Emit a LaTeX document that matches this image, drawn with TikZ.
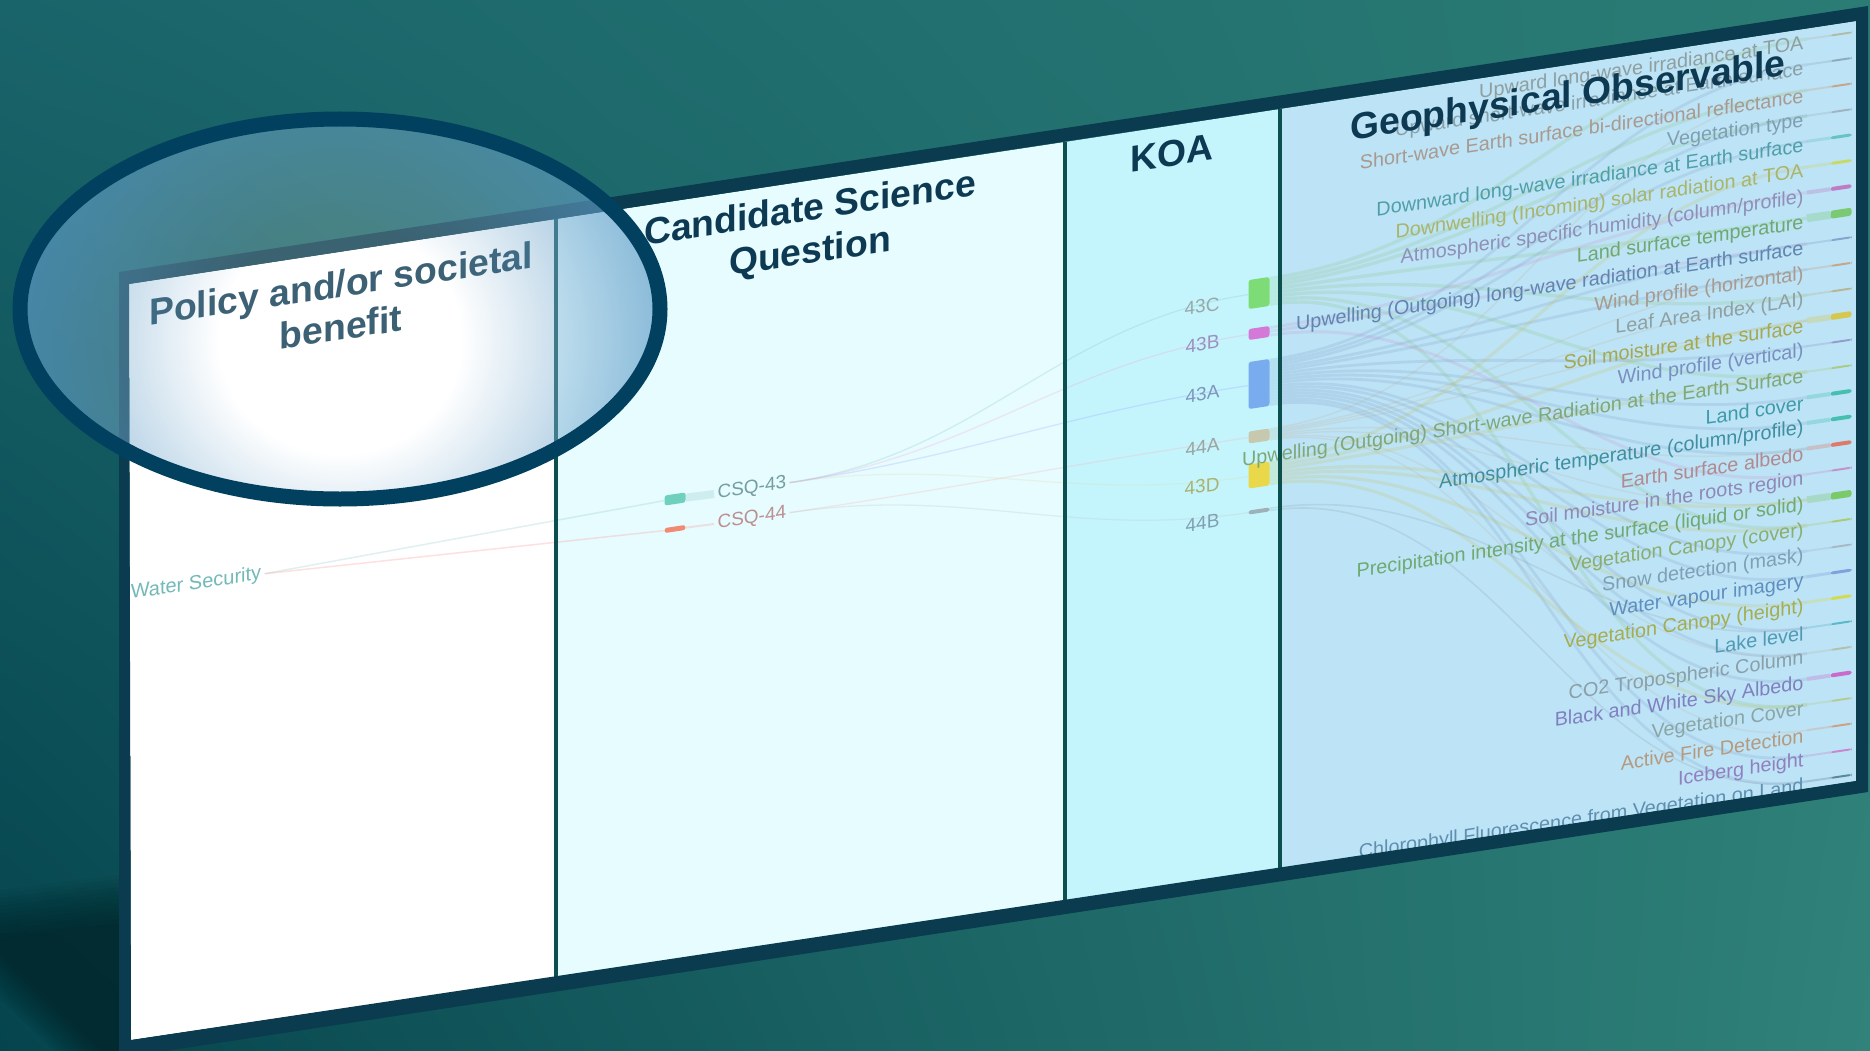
\documentclass[tikz,border=0pt]{standalone}
\usepackage{fontspec}
\setmainfont{Liberation Sans}
\usetikzlibrary{shadings,fadings,calc}
\definecolor{bgLL}{HTML}{05444D}
\definecolor{bgUL}{HTML}{19646A}
\definecolor{bgUR}{HTML}{2B7C75}
\definecolor{bgLR}{HTML}{30827A}
\definecolor{framecol}{HTML}{0A3B4E}
\definecolor{sepcol}{HTML}{0B4F4F}
\definecolor{lenscol}{HTML}{4A8FC0}
\definecolor{lensring}{HTML}{02405F}
\definecolor{titlecol}{HTML}{0D3A52}
\definecolor{colB}{HTML}{E6FCFF}
\definecolor{colC}{HTML}{C4F5FD}
\definecolor{colD}{HTML}{BDE3F6}
\definecolor{lgreen}{HTML}{8FC98A}
\definecolor{lpink}{HTML}{C79AD0}
\definecolor{lblue}{HTML}{7FA3CC}
\definecolor{ltan}{HTML}{BDB9A0}
\definecolor{lyellow}{HTML}{C2C46A}
\definecolor{lgrey}{HTML}{8FA5B0}
\definecolor{csqteal}{HTML}{6FD0BD}
\definecolor{csqred}{HTML}{F08A70}
\pgfdeclareradialshading{lensshade}{\pgfpointorigin}{%
  color(0bp)=(transparent!100); color(9.5bp)=(transparent!100);
  color(25bp)=(transparent!40); color(50bp)=(transparent!40)}
\pgfdeclarefading{lensfade}{\pgfuseshading{lensshade}}
\tikzset{
  tilted/.style={yslant=0.15},
  title/.style={tilted,font=\bfseries\fontsize{37.3}{43}\selectfont,text=titlecol,align=center},
  koatext/.style={tilted,font=\fontsize{19}{19}\selectfont,anchor=east,text=#1},
  obstext/.style={tilted,font=\fontsize{19.8}{20}\selectfont,anchor=east,text=#1},
  chip/.style={tilted,fill=#1,rounded corners=2.5pt,inner sep=0pt,minimum width=21pt},
  link/.style={draw=#1,line width=1.3pt,opacity=.24,out=8.5,in=188.5,looseness=1},
  stub/.style={draw=#1,opacity=.3},
}
\def\obslist{
    1/Upward long-wave irradiance at TOA/8F9F9F/B0B8A0/2,
    2/Upward short-wave irradiance at Earth surface/8AA0A8/8AA5B5/2,
    3/Short-wave Earth surface bi-directional reflectance/A89A90/C89F80/2,
    4/Vegetation type/7F9FB0/9AB0BD/2,
    5/Downward long-wave irradiance at Earth surface/4F9FA8/5CC0BC/3,
    6/Downwelling (Incoming) solar radiation at TOA/A9B56A/C9D95A/3,
    7/{Atmospheric specific humidity (column/profile)}/8F8FB8/C070C0/4,
    8/Land surface temperature/6FA870/74C865/8,
    9/Upwelling (Outgoing) long-wave radiation at Earth surface/5F86B0/7F9FC8/2,
    10/Wind profile (horizontal)/A89A90/C8A080/2,
    11/Leaf Area Index (LAI)/8FA0A0/B8B08A/2,
    12/Soil moisture at the surface/A5A850/D9C63C/6,
    13/Wind profile (vertical)/7A8FC0/8F96C8/2,
    14/Upwelling (Outgoing) Short-wave Radiation at the Earth Surface/7FA878/A6C97A/2,
    15/Land cover/3F9AA8/38BCA8/4,
    16/{Atmospheric temperature (column/profile)}/3F8FA0/38BCA8/4,
    17/Earth surface albedo/B08A90/E0705A/4,
    18/Soil moisture in the roots region/8F88B8/C48AC8/2,
    19/Precipitation intensity at the surface (liquid or solid)/6FAA70/74C85A/7,
    20/Vegetation Canopy (cover)/8AAE70/A6C965/2,
    21/Snow detection (mask)/7F9FB5/A5B5C0/2,
    22/Water vapour imagery/5F8FC0/7A9AD8/3,
    23/Vegetation Canopy (height)/A5AD50/D6DA3C/3,
    24/Lake level/4F9AB5/4FB5C0/2,
    25/CO2 Tropospheric Column/8A9FA8/B5BDA5/2,
    26/Black and White Sky Albedo/8080C0/CC5FC8/4,
    27/Vegetation Cover/8AA5A5/B5C88A/2,
    28/Active Fire Detection/B59A80/D09A7A/2,
    29/Iceberg height/9080C0/C880C8/2,
    30/Chlorophyll Fluorescence from Vegetation on Land/5F8FB0/50808F/2}
\begin{document}
\begin{tikzpicture}[x=1pt,y=-1pt]
  \useasboundingbox (0,0) rectangle (1870,1051);
  % background
  \shade[lower left=bgLL,lower right=bgLR,upper left=bgUL,upper right=bgUR]
    (0,0) rectangle (1870,1051);
  \foreach \d in {0,4,...,48}
    \fill[black!60!bgLL,opacity=.06]
      (119,875+\d) -- (0,890+\d) -- (0,1000-\d) -- (55+\d,1051) -- (119,1051) -- cycle;
  % columns
  \fill[white] (129,284) -- (556,219) -- (556,977) -- (131,1040) -- cycle;
  \fill[colB] (556,219) -- (1065,142) -- (1065,901) -- (556,977) -- cycle;
  \fill[colC] (1065,142) -- (1280,109) -- (1280,869) -- (1065,901) -- cycle;
  \fill[colD] (1280,109) -- (1856,21) -- (1856,781) -- (1280,869) -- cycle;

  % left column and candidate questions
  \node[tilted,font=\fontsize{20}{20}\selectfont,text=teal!55!white] (water) at (196,584) {Water Security};
  \node[chip=csqteal,minimum height=10pt] (csq43) at (675,499) {};
  \node[chip=csqred,minimum height=5pt] (csq44) at (675,529) {};
  \node[koatext=teal!45!gray!75!white,anchor=west] (csq43t) at (714,494) {CSQ-43};
  \node[koatext=red!25!gray!70!white,anchor=west] (csq44t) at (714,524) {CSQ-44};

  % KOA
  \definecolor{t1}{HTML}{9BA8A8}\definecolor{t2}{HTML}{9A90C0}\definecolor{t3}{HTML}{7F97B8}
  \definecolor{t4}{HTML}{98A5A0}\definecolor{t5}{HTML}{A9B070}\definecolor{t6}{HTML}{7F9FB0}
  \node[koatext=t1] (t43C) at (1223,303) {43C};
  \node[koatext=t2] (t43B) at (1223,341) {43B};
  \node[koatext=t3] (t43A) at (1223,391) {43A};
  \node[koatext=t4] (t44A) at (1223,444) {44A};
  \node[koatext=t5] (t43D) at (1223,483) {43D};
  \node[koatext=t6] (t44B) at (1223,520) {44B};
  \definecolor{k1}{HTML}{7EDC76}\definecolor{k2}{HTML}{D479D8}\definecolor{k3}{HTML}{78ACEF}
  \definecolor{k4}{HTML}{C8C8AE}\definecolor{k5}{HTML}{E8D84A}\definecolor{k6}{HTML}{9EB0B8}
  \node[chip=k1,minimum height=29pt] (k43C) at (1259,293) {};
  \node[chip=k2,minimum height=11pt] (k43B) at (1259,333) {};
  \node[chip=k3,minimum height=47pt] (k43A) at (1259,384) {};
  \node[chip=k4,minimum height=12pt] (k44A) at (1259,436) {};
  \node[chip=k5,minimum height=24pt] (k43D) at (1259,475) {};
  \node[chip=k6,minimum height=4pt] (k44B) at (1259,511) {};

  % observable ticks
  \foreach \idx/\txt/\tcol/\mcol/\hgt in \obslist {
    \definecolor{mc}{HTML}{\mcol}
    \pgfmathsetmacro{\rowy}{44+25.6*(\idx-1)}
    \node[chip=mc,minimum height=\hgt pt,opacity=.9] (o\idx) at (1841,\rowy-10) {};
    \coordinate (e\idx) at (1807,\rowy-5);
    \draw[stub=mc,line width=\hgt pt] (e\idx) -- (o\idx.west);
  }

  % links
  \draw[stub=teal!40!white,line width=8pt] (csq43) -- (csq43t.west);
  \draw[stub=teal!40!white,line width=1.5pt] (water.east) -- (csq43.west);
  \draw[stub=red!40!white,line width=1.5pt] (water.east) -- (csq44.west);
  \draw[stub=red!40!white,line width=2pt] (csq44) -- (csq44t.west);
  \path (csq43t.east) edge[link=teal!50!white] (k43C.west)
        (csq43t.east) edge[link=magenta!40!white] (k43B.west)
        (csq43t.east) edge[link=blue!40!white] (k43A.west)
        (csq43t.east) edge[link=olive!30!white] (k43D.west)
        (csq44t.east) edge[link=red!35!white] (k44A.west)
        (csq44t.east) edge[link=gray!50!white] (k44B.west);
  \foreach \obs [count=\n] in {1,3,4,8,11,14,20,27}
    \draw[link=lgreen,line width=3.4pt] ($(k43C.north east)!{(\n-.5)/8}!(k43C.south east)$) to (e\obs);
  \foreach \obs [count=\n] in {7,9,18}
    \draw[link=lpink,line width=3pt] ($(k43B.north east)!{(\n-.5)/3}!(k43B.south east)$) to (e\obs);
  \foreach \obs [count=\n] in {2,4,5,9,10,13,15,16,17,21,22,24,25,26,29,30}
    \draw[link=lblue,line width=2.8pt] ($(k43A.north east)!{(\n-.5)/16}!(k43A.south east)$) to (e\obs);
  \foreach \obs [count=\n] in {3,10,11,12,17,19,25,28}
    \draw[link=ltan,line width=1.5pt] ($(k44A.north east)!{(\n-.5)/8}!(k44A.south east)$) to (e\obs);
  \foreach \obs [count=\n] in {6,12,14,19,20,23,27}
    \draw[link=lyellow,line width=3.2pt] ($(k43D.north east)!{(\n-.5)/7}!(k43D.south east)$) to (e\obs);
  \foreach \obs [count=\n] in {24,30}
    \draw[link=lgrey,line width=1.6pt] ($(k44B.north east)!{(\n-.5)/2}!(k44B.south east)$) to (e\obs);

  % observable labels
  \foreach \idx/\txt/\tcol/\mcol/\hgt in \obslist {
    \definecolor{tc}{HTML}{\tcol}
    \pgfmathsetmacro{\rowy}{44+25.6*(\idx-1)}
    \node[obstext=tc] (l\idx) at (1807,\rowy) {\txt};
  }

  % titles
  \node[title] (hpolicy) at (341,305) {Policy and/or societal\\benefit};
  \node[title] (hcsq) at (810,232) {Candidate Science\\Question};
  \node[title] (hkoa) at (1172,153) {KOA};
  \node[title] (hobs) at (1568,98) {Geophysical Observable};

  % frame and separators
  \draw[sepcol,line width=3.5pt] (556,219) -- (556,977);
  \draw[sepcol,line width=3.5pt] (1065,142) -- (1065,901);
  \draw[sepcol,line width=3.5pt] (1280,109) -- (1280,869);
  \fill[framecol,even odd rule]
    (119,272) -- (1868,6) -- (1868,792) -- (119,1058) -- cycle
    (129,284) -- (1856,21) -- (1856,781) -- (131,1040) -- cycle;

  % lens
  \begin{scope}
    \clip (340,309) ellipse [x radius=320,y radius=190];
    \fill[white,opacity=.2] (20,100) rectangle (660,520);
    \fill[lenscol,path fading=lensfade] (20,40) rectangle (660,640);
  \end{scope}
  \draw[lensring,line width=15pt] (340,309) ellipse [x radius=320,y radius=190];
\end{tikzpicture}
\end{document}
